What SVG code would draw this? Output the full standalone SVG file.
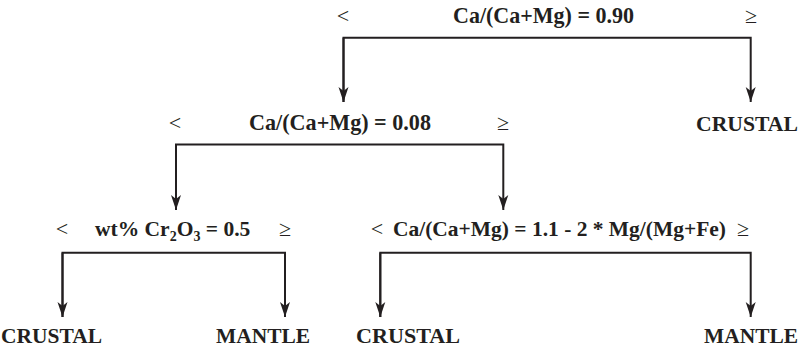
<svg xmlns="http://www.w3.org/2000/svg" width="804" height="352" viewBox="0 0 804 352">
<style>
.t{font-family:"Liberation Serif","Times New Roman",serif;font-weight:bold;font-size:24px;fill:#231f20}
.l{font-family:"Liberation Serif","Times New Roman",serif;font-weight:bold;font-size:22px;fill:#231f20}
.s{font-family:"Liberation Serif","Times New Roman",serif;font-weight:normal;font-size:22px;fill:#231f20}
.c{fill:none;stroke:#231f20;stroke-width:2}
</style>
<defs>
<marker id="ah" markerUnits="userSpaceOnUse" markerWidth="16" markerHeight="12" refX="15" refY="6" orient="auto" viewBox="0 0 16 12">
<path d="M0,1 L15,6 L0,11 L4,6 Z" fill="#231f20"/>
</marker>
</defs>
<rect width="804" height="352" fill="#ffffff"/>
<g id="connectors">
<path class="c" d="M343.5,102 V37.7 H750.7 V102" marker-end="url(#ah)"/>
<path class="c" d="M343.5,37.7 V102" marker-end="url(#ah)"/>
<path class="c" d="M176,210 V144.5 H503.3 V210" marker-end="url(#ah)"/>
<path class="c" d="M176,144.5 V210" marker-end="url(#ah)"/>
<path class="c" d="M62.5,317 V252.7 H285 V317" marker-end="url(#ah)"/>
<path class="c" d="M62.5,252.7 V317" marker-end="url(#ah)"/>
<path class="c" d="M380.3,317 V252.7 H750.7 V317" marker-end="url(#ah)"/>
<path class="c" d="M380.3,252.7 V317" marker-end="url(#ah)"/>
</g>
<g id="node-ca090">
<text class="s" x="343" y="23" text-anchor="middle">&lt;</text>
<text class="t" x="453" y="23" textLength="181" lengthAdjust="spacingAndGlyphs">Ca/(Ca+Mg) = 0.90</text>
<text class="s" x="751" y="23" text-anchor="middle">≥</text>
</g>
<g id="node-crustal-top">
<text class="l" x="696" y="131" textLength="102" lengthAdjust="spacingAndGlyphs">CRUSTAL</text>
</g>
<g id="node-ca008">
<text class="s" x="175" y="130" text-anchor="middle">&lt;</text>
<text class="t" x="249" y="130" textLength="182" lengthAdjust="spacingAndGlyphs">Ca/(Ca+Mg) = 0.08</text>
<text class="s" x="503" y="130" text-anchor="middle">≥</text>
</g>
<g id="node-cr2o3">
<text class="s" x="62" y="236" text-anchor="middle">&lt;</text>
<text class="t" x="95" y="236" style="font-size:21.5px">wt% Cr<tspan style="font-size:14px" dy="5">2</tspan><tspan dy="-5">O</tspan><tspan style="font-size:14px" dy="5">3</tspan><tspan dy="-5"> = 0.5</tspan></text>
<text class="s" x="285" y="236" text-anchor="middle">≥</text>
</g>
<g id="node-camgfe">
<text class="s" x="377" y="236" text-anchor="middle">&lt;</text>
<text class="l" x="393" y="236" textLength="333" lengthAdjust="spacingAndGlyphs">Ca/(Ca+Mg) = 1.1 - 2 * Mg/(Mg+Fe)</text>
<text class="s" x="743" y="236" text-anchor="middle">≥</text>
</g>
<g id="node-crustal-1">
<text class="l" x="1" y="343" textLength="101" lengthAdjust="spacingAndGlyphs">CRUSTAL</text>
</g>
<g id="node-mantle-1">
<text class="l" x="216" y="343" textLength="94" lengthAdjust="spacingAndGlyphs">MANTLE</text>
</g>
<g id="node-crustal-2">
<text class="l" x="356" y="343" textLength="104" lengthAdjust="spacingAndGlyphs">CRUSTAL</text>
</g>
<g id="node-mantle-2">
<text class="l" x="704" y="343" textLength="94" lengthAdjust="spacingAndGlyphs">MANTLE</text>
</g>
</svg>
